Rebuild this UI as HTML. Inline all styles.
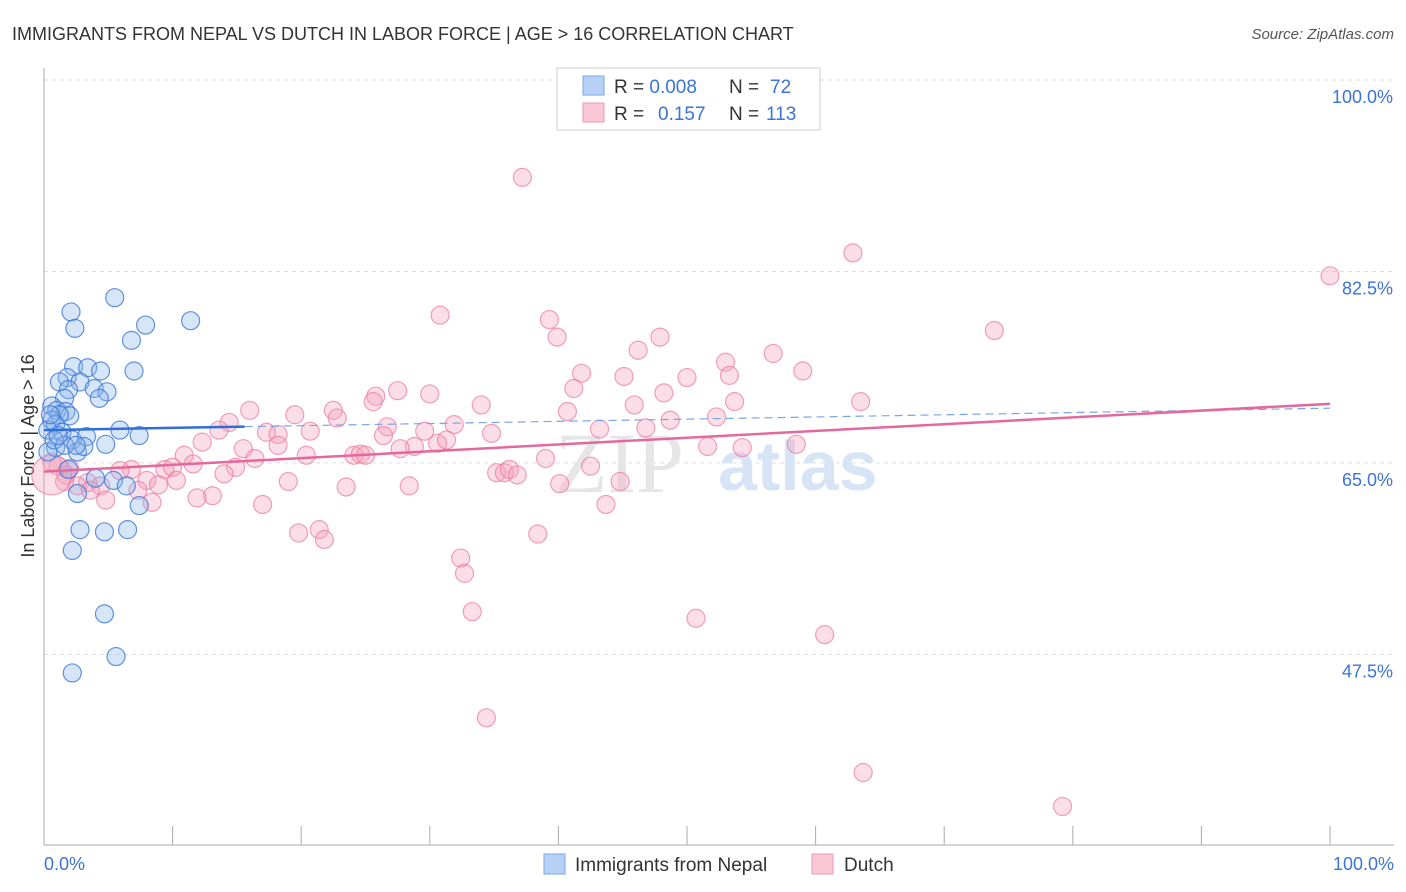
<!DOCTYPE html>
<html><head><meta charset="utf-8"><style>
body{margin:0;background:#fff;font-family:"Liberation Sans",sans-serif;}
svg{display:block}
</style></head><body>
<svg id="chart" width="1406" height="892" viewBox="0 0 1406 892">
<text x="12" y="40" font-size="18" fill="#333">IMMIGRANTS FROM NEPAL VS DUTCH IN LABOR FORCE | AGE &gt; 16 CORRELATION CHART</text>
<text x="1394" y="39" font-size="15" fill="#555" font-style="italic" text-anchor="end">Source: ZipAtlas.com</text>
<g id="grid"></g>
<g><text x="555" y="492" font-size="86" font-family="Liberation Serif" fill="#e6e6e6">ZIP</text><text x="718" y="490" font-size="70" fill="#d6e4f5" font-weight="bold">atlas</text></g>
<line x1="44" y1="68" x2="44" y2="845" stroke="#aaa"/>
<line x1="44" y1="845" x2="1394" y2="845" stroke="#aaa"/>
<g id="ticks"></g>
<g id="ylabels"></g>
<text x="34" y="456" font-size="18" fill="#333" transform="rotate(-90 34 456)" text-anchor="middle">In Labor Force | Age &gt; 16</text>
<text x="44" y="870" font-size="18" fill="#3b73d6">0.0%</text>
<text x="1394" y="870" font-size="18" fill="#3b73d6" text-anchor="end">100.0%</text>
<g id="pink"></g>
<g id="blue"></g>
<g id="trends"></g>
<g>
<rect x="557" y="68" width="263" height="62" fill="#fff" stroke="#ccc"/>
<rect x="583" y="76" width="21" height="19" fill="#b7d1f5" stroke="#7aa6e6"/>
<rect x="583" y="103" width="21" height="19" fill="#f9c7d6" stroke="#ec9ab4"/>
<text x="614" y="93" font-size="19" fill="#333">R = <tspan fill="#3b73d6">0.008</tspan><tspan x="729">N = </tspan><tspan x="770" fill="#3b73d6">72</tspan></text>
<text x="614" y="120" font-size="19" fill="#333">R = <tspan x="658" fill="#3b73d6">0.157</tspan><tspan x="729">N = </tspan><tspan x="766" fill="#3b73d6">113</tspan></text>
</g>
<g>
<rect x="544" y="854" width="21" height="20" fill="#b7d1f5" stroke="#7aa6e6"/>
<text x="575" y="871" font-size="19" fill="#333">Immigrants from Nepal</text>
<rect x="812" y="854" width="21" height="20" fill="#f9c7d6" stroke="#ec9ab4"/>
<text x="844" y="871" font-size="19" fill="#333">Dutch</text>
</g>
</svg>
<script>
const yTicks=[100,82.5,65,47.5];
const yTickLabels=["100.0%","82.5%","65.0%","47.5%"];
const xTicks=[0,10,20,30,40,50,60,70,80,90,100];
const nepalX=[5.5,2.1,2.4,7.9,11.4,6.8,2.3,3.4,7.0,4.4,1.8,1.2,2.8,1.9,3.9,4.9,4.3,1.6,0.6,1.0,1.7,2.0,1.2,0.6,0.9,1.4,0.3,2.2,3.3,5.9,7.4,4.8,0.9,2.6,3.1,0.3,1.9,4.0,5.4,6.4,2.6,7.4,2.8,4.7,6.5,2.2,4.7,5.6,2.2,0.8,1.6,1.1,0.5,2.5];
const nepalY=[80.1,78.8,77.3,77.6,78.0,76.2,73.8,73.7,73.4,73.4,72.8,72.4,72.4,71.7,71.8,71.5,70.9,70.9,70.2,69.8,69.7,69.3,69.4,68.9,68.5,67.8,68.0,67.1,67.4,68.0,67.5,66.7,66.4,66.0,66.5,66.0,64.4,63.6,63.4,62.9,62.2,61.1,58.9,58.7,58.9,57.0,51.2,47.3,45.8,67.1,66.6,67.5,69.4,66.6];
const dutchX=[37.2,62.9,100,30.8,39.3,73.9,39.9,47.9,46.2,56.7,53.0,59.0,41.8,45.1,53.3,50.0,41.2,27.5,30.0,25.8,48.2,53.7,63.5,34.0,25.6,45.9,16.0,22.5,40.7,19.5,14.4,22.8,52.3,31.9,48.7,13.6,17.3,18.2,26.7,43.2,46.8,34.8,26.4,20.7,12.3,15.5,18.2,30.6,31.3,28.8,29.6,27.7,10.9,20.4,24.1,24.6,25.0,39.0,16.4,51.6,54.3,58.5,42.5,11.6,14.9,9.4,10.0,6.8,5.9,2.0,0.6,1.1,1.7,14.0,35.2,35.8,36.2,36.8,8.0,10.3,19.0,8.9,3.4,4.4,2.6,1.6,3.6,7.3,40.1,44.8,23.5,28.4,13.1,11.9,4.8,8.4,17.0,43.7,19.8,21.4,21.8,38.4,32.4,32.7,33.3,50.7,60.7,34.4,63.7,79.2,0.6];
const dutchY=[91.1,84.2,82.1,78.5,78.1,77.1,76.5,76.5,75.3,75.0,74.2,73.4,73.2,72.9,73.0,72.8,71.8,71.6,71.3,71.1,71.4,70.6,70.6,70.3,70.6,70.3,69.8,69.8,69.7,69.4,68.7,69.1,69.2,68.5,68.9,68.0,67.8,67.6,68.3,68.1,68.2,67.7,67.5,67.9,66.9,66.3,66.6,66.8,67.1,66.5,67.9,66.3,65.7,65.7,65.7,65.8,65.7,65.4,65.4,66.5,66.4,66.7,64.7,64.9,64.6,64.4,64.6,64.4,64.3,64.5,65.1,64.7,63.9,64.0,64.1,64.1,64.4,63.9,63.4,63.4,63.3,63.0,63.2,62.9,62.9,63.3,62.5,62.5,63.1,63.3,62.8,62.9,62.0,61.8,61.6,61.4,61.2,61.2,58.6,58.9,58.0,58.5,56.3,54.9,51.4,50.8,49.3,41.7,36.7,33.6,63.9];
const nepalTrend=[68.0,70.0];
const dutchTrend=[64.2,70.4];
const NS="http://www.w3.org/2000/svg";
const xs=v=>44+v*12.86;
const ys=v=>80+(100-v)*10.94;
function mk(tag,attrs,parent){const e=document.createElementNS(NS,tag);for(const k in attrs)e.setAttribute(k,attrs[k]);parent.appendChild(e);return e;}
const grid=document.getElementById('grid'),ticks=document.getElementById('ticks'),yl=document.getElementById('ylabels');
yTicks.forEach((t,i)=>{
 const l=mk('line',{x1:44,x2:1394,y1:ys(t),y2:ys(t),stroke:'#ddd','stroke-dasharray':'4,4'},grid);
 
 
 const tx=mk('text',{x:1393,y:ys(t)+23,'font-size':18,fill:'#3b73d6','text-anchor':'end'},yl);
 tx.textContent=yTickLabels[i];
 
 
});
xTicks.forEach(t=>{
 const l=mk('line',{x1:xs(t),x2:xs(t),y1:826,y2:845,stroke:'#aaa'},ticks);
 
 
});
const pg=document.getElementById('pink');
dutchX.forEach((x,i)=>{
 const big=i===dutchX.length-1;
 const c=mk('circle',{cx:xs(x),cy:ys(dutchY[i]),r:big?20:9,fill:'rgba(244,160,186,0.35)',stroke:'rgba(236,120,160,0.7)','stroke-width':1.2},pg);
 
 
});
const bg=document.getElementById('blue');
nepalX.forEach((x,i)=>{
 const c=mk('circle',{cx:xs(x),cy:ys(nepalY[i]),r:9,fill:'rgba(140,180,235,0.35)',stroke:'rgba(60,120,215,0.8)','stroke-width':1.2},bg);
 
 
});
const tg=document.getElementById('trends');
const bySlope=v=>nepalTrend[0]+(nepalTrend[1]-nepalTrend[0])*v/100;
const t1=mk('line',{x1:xs(0),y1:ys(nepalTrend[0]),x2:xs(15.6),y2:ys(bySlope(15.6)),stroke:'#2e6fd8','stroke-width':2.5},tg);


const t2=mk('line',{x1:xs(15.6),y1:ys(bySlope(15.6)),x2:xs(100),y2:ys(nepalTrend[1]),stroke:'#7aa6e6','stroke-width':1.2,'stroke-dasharray':'8,5'},tg);


const t3=mk('line',{x1:xs(0),y1:ys(dutchTrend[0]),x2:xs(100),y2:ys(dutchTrend[1]),stroke:'#e5689a','stroke-width':2.5},tg);


</script>
</body></html>
